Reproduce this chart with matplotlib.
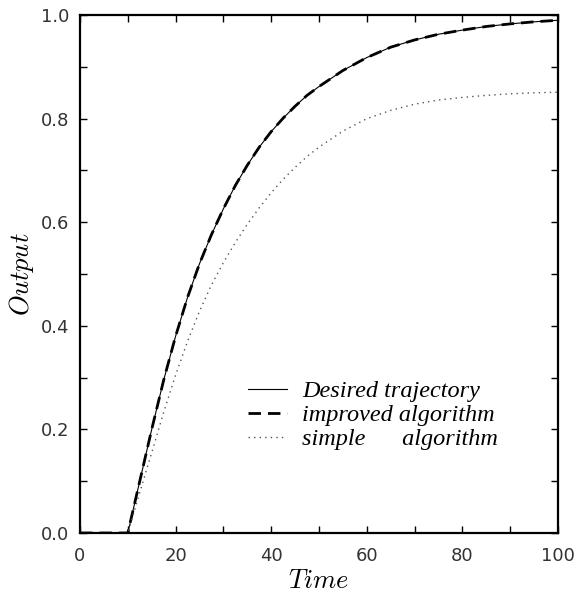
import matplotlib
matplotlib.use("Agg")
import matplotlib.pyplot as plt
from matplotlib.ticker import MultipleLocator

# values
time = [0, 10, 12.5, 15, 17.5, 20, 22.5, 25, 27.5, 30, 32.5, 35, 37.5, 40,
        42.5, 45, 47.5, 50, 55, 60, 65, 70, 75, 80, 85, 90, 95, 100]
desired = [0, 0, 0.100, 0.200, 0.295, 0.380, 0.455, 0.520, 0.576, 0.626,
           0.671, 0.710, 0.745, 0.775, 0.801, 0.824, 0.845, 0.862, 0.893,
           0.918, 0.938, 0.952, 0.963, 0.971, 0.978, 0.983, 0.987, 0.990]
improved = [0, 0, 0.100, 0.200, 0.295, 0.380, 0.455, 0.520, 0.576, 0.626,
            0.671, 0.710, 0.745, 0.775, 0.801, 0.824, 0.845, 0.862, 0.893,
            0.918, 0.938, 0.952, 0.963, 0.971, 0.978, 0.983, 0.987, 0.990]
simple = [0, 0, 0.078, 0.155, 0.233, 0.305, 0.370, 0.428, 0.479, 0.522,
          0.561, 0.596, 0.628, 0.657, 0.683, 0.706, 0.727, 0.745, 0.776,
          0.800, 0.816, 0.828, 0.836, 0.841, 0.845, 0.848, 0.850, 0.851]

labels = ['Desired trajectory', 'improved algorithm', 'simple      algorithm']

plt.rcParams['mathtext.fontset'] = 'cm'

fig = plt.figure(figsize=(5.78, 5.96), dpi=100)
ax = fig.add_axes([0.1384, 0.1057, 0.827, 0.869])

ax.plot(time, desired, color='black', lw=0.8, label=labels[0])
ax.plot(time, improved, color='black', lw=2.0, dashes=(4.5, 2.5), label=labels[1])
ax.plot(time, simple, color='#555555', lw=1.0, dashes=(1, 3), label=labels[2])

ax.set_xlim(0, 100)
ax.set_ylim(0, 1.0)
ax.xaxis.set_major_locator(MultipleLocator(20))
ax.xaxis.set_minor_locator(MultipleLocator(10))
ax.yaxis.set_major_locator(MultipleLocator(0.2))
ax.yaxis.set_minor_locator(MultipleLocator(0.1))
ax.yaxis.set_major_formatter(lambda v, p: f'{v:.1f}')

ax.tick_params(which='both', direction='in', top=True, right=True,
               length=5, width=1.0)
ax.tick_params(axis='x', pad=10, labelsize=13)
ax.tick_params(axis='y', pad=8, labelsize=13)
for lab in ax.get_xticklabels() + ax.get_yticklabels():
    lab.set_fontfamily('DejaVu Sans')
    lab.set_color('#333333')
for s in ax.spines.values():
    s.set_linewidth(1.6)

ax.set_xlabel(r'$Time$', fontsize=19, labelpad=2)
ax.set_ylabel(r'$Output$', fontsize=19, labelpad=3)

leg = ax.legend(loc='upper left', bbox_to_anchor=(0.322, 0.323), frameon=False,
                handlelength=1.6, handletextpad=0.6, labelspacing=0.08,
                borderaxespad=0.2,
                prop={'family': 'Liberation Serif', 'style': 'italic', 'size': 17.5})

fig.savefig('out.png', dpi=100)
